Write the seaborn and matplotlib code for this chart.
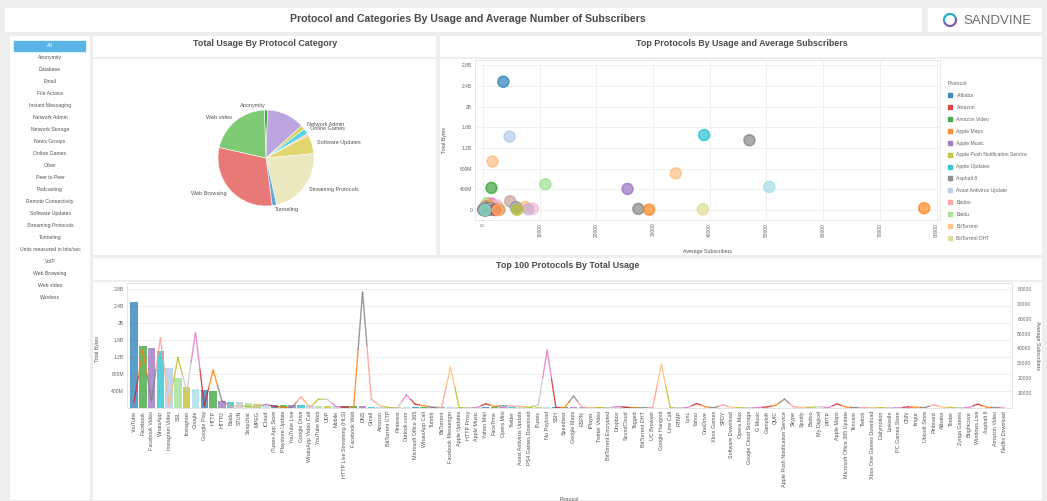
import numpy as np
import pandas as pd
import seaborn as sns
import matplotlib.pyplot as plt
from matplotlib.patches import Rectangle, Arc
from matplotlib.lines import Line2D

sns.set_style("white")
plt.rcParams['font.family'] = ['Liberation Sans', 'DejaVu Sans']

W, H = 1047, 501

# ---- data ----
categories = ['All', 'Anonymity', 'Database', 'Email', 'File Access', 'Instant Messaging',
              'Network Admin', 'Network Storage', 'News Groups', 'Online Games', 'Other',
              'Peer to Peer', 'Podcasting', 'Remote Connectivity', 'Software Updates',
              'Streaming Protocols', 'Tunneling', 'Units measured in bits/sec', 'VoIP',
              'Web Browsing', 'Web video', 'Wireless']

pie_labels = ['Anonymity', '', 'Network Admin', 'Online Games', '', 'Software Updates',
              'Streaming Protocols', 'Tunneling', 'Web Browsing', 'Web video']
pie_values = [1.1, 12.8, 1.4, 1.9, 0.6, 6.4, 23.0, 1.5, 30.7, 21.0]
pie_colors = ['#3aa63a', '#b9a0dd', '#d8cc55', '#4fd3e3', '#f6b3cc', '#e3d466',
              '#e9e8bd', '#5ba4d8', '#e8726f', '#78c96e']

protocols = [
    'YouTube', 'Facebook', 'Facebook Video', 'WhatsApp', 'Instagram Video', 'SSL',
    'Instagram', 'Google', 'Google Play', 'HTTP', 'HTTP2', 'Baidu', 'STUN', 'Snapchat',
    'MPEG', 'iCloud', 'iTunes App Store', 'Playstore Update', 'YouTube Live',
    'Google Drive', 'WhatsApp Video Call', 'YouTube Web', 'UDP', 'Mobile',
    'HTTP Live Streaming (HLS)', 'Facebook Web', 'DNS', 'Gmail', 'Amazon',
    'BitTorrent UTP', 'Pinterest', 'Outlook.com', 'Microsoft Office 365',
    'WhatsApp Call', 'Tumblr', 'BitTorrent', 'Facebook Messenger', 'Apple Updates',
    'HTTP Proxy', 'Apple Music', 'Yahoo Mail', 'FaceTime', 'Opera Mini', 'Twitter',
    'Avast Antivirus Update', 'PS4 Games Download', 'iTunes', 'No Payload', 'SSH',
    'Speedtest', 'Google Maps', 'ESPN', 'iPlayer', 'Twitter Video',
    'BitTorrent Encrypted', 'Dropbox', 'SoundCloud', 'Tagged', 'BitTorrent DHT',
    'UC Browser', 'Google Hangout', 'Line Call', 'RTMP', 'Lync', 'Yahoo', 'OneDrive',
    'Xbox Games', 'SPDY', 'Software Download', 'Opera Max', 'Google Cloud Storage',
    'G Music', 'Gameloft', 'QUIC', 'Apple Push Notification Service', 'Skype',
    'Spotify', 'Badoo', 'My Digicel', 'PPTP', 'Apple Maps',
    'Microsoft Office 365 Update', 'Tencent', 'Twitch', 'Xbox One Games Download',
    'Dailymotion', 'LinkedIn', 'PC Games Store', 'CNN', 'Imgur', 'Ubisoft Store',
    'Pinboard', 'Alibaba', 'Tinder', 'Zynga Games', 'Brightcove', 'Windows Live',
    'Asphalt 8', 'Amazon Video', 'Netflix Download']

# total bytes, in billions
total_bytes = [
    2.48, 1.45, 1.42, 1.35, 0.94, 0.71, 0.50, 0.45, 0.43, 0.41,
    0.17, 0.14, 0.13, 0.11, 0.10, 0.09, 0.075, 0.072, 0.068, 0.064,
    0.060, 0.056, 0.052, 0.048, 0.044, 0.040, 0.037, 0.035, 0.033, 0.031,
    0.030, 0.029, 0.028, 0.027, 0.026, 0.025, 0.024, 0.023, 0.022, 0.021,
    0.020, 0.019, 0.019, 0.018, 0.018, 0.017, 0.017, 0.016, 0.016, 0.015,
    0.015, 0.014, 0.014, 0.013, 0.013, 0.012, 0.012, 0.012, 0.011, 0.011,
    0.011, 0.010, 0.010, 0.010, 0.009, 0.009, 0.009, 0.009, 0.008, 0.008,
    0.008, 0.008, 0.007, 0.007, 0.007, 0.007, 0.007, 0.006, 0.006, 0.006,
    0.006, 0.006, 0.005, 0.005, 0.005, 0.005, 0.005, 0.005, 0.004, 0.004,
    0.004, 0.004, 0.004, 0.004, 0.004, 0.003, 0.003, 0.003, 0.003, 0.003]

avg_subscribers = [
    3600, 39000, 4700, 47000, 1700, 34000, 11000, 50500, 1500, 25500,
    4800, 800, 1500, 1000, 600, 2500, 1000, 500, 600, 7500,
    500, 5900, 5800, 1000, 500, 900, 77800, 5900, 1500, 200,
    300, 8800, 2500, 1500, 500, 300, 27400, 200, 100, 200,
    2800, 1000, 1500, 1200, 1000, 400, 2000, 38800, 300, 200,
    8000, 400, 200, 300, 200, 1000, 500, 100, 200, 300,
    29300, 200, 100, 300, 3000, 800, 200, 2000, 300, 100,
    200, 300, 700, 1800, 6000, 800, 300, 400, 800, 300,
    2800, 600, 300, 200, 300, 200, 300, 100, 700, 500,
    300, 2200, 400, 300, 200, 400, 2600, 500, 300, 400]

df = pd.DataFrame({'protocol': protocols, 'bytes': total_bytes, 'subs': avg_subscribers})

# ---- colours ----
tab = ['#1f77b4', '#d62728', '#2ca02c', '#ff7f0e', '#9467bd', '#bcbd22', '#17becf',
       '#7f7f7f', '#aec7e8', '#ff9896', '#98df8a', '#ffbb78', '#dbdb8d', '#c5b0d5',
       '#9edae5', '#c7c7c7', '#8c564b', '#e377c2', '#c49c94', '#f7b6d2']
legend_order = sorted(protocols, key=str.lower)
proto_colors = {p: tab[i % len(tab)] for i, p in enumerate(legend_order)}
proto_colors.update({'YouTube': '#1f77b4', 'Facebook': '#17becf', 'Facebook Video': '#aec7e8',
                     'WhatsApp': '#7f7f7f', 'Instagram Video': '#ffbb78', 'SSL': '#ffbb78',
                     'Instagram': '#98df8a', 'Google': '#9edae5', 'Google Play': '#2ca02c',
                     'HTTP': '#9467bd', 'DNS': '#ff7f0e', 'Facebook Messenger': '#7f7f7f',
                     'Google Hangout': '#ff7f0e', 'No Payload': '#dbdb8d'})

bar_cycle = ['#1f77b4', '#2ca02c', '#9467bd', '#17becf', '#aec7e8', '#98df8a', '#bcbd22', '#9edae5']
bar_colors = [bar_cycle[i % 8] for i in range(len(protocols))]
line_cycle = ['#d62728', '#ff7f0e', '#7f7f7f', '#ff9896', '#ffbb78', '#bcbd22', '#c7c7c7', '#e377c2']
line_colors = [line_cycle[i % 8] for i in range(len(protocols))]


def rect(x0, y0, x1, y1):
    return [x0 / W, 1 - y1 / H, (x1 - x0) / W, (y1 - y0) / H]


def panel(x0, y0, x1, y1, color='white'):
    a = fig.add_axes(rect(x0, y0, x1, y1))
    a.set_facecolor(color)
    a.set_xticks([])
    a.set_yticks([])
    for s in a.spines.values():
        s.set_visible(False)
    return a


def fmt_bytes(v):
    if v == 0:
        return '0'
    if v < 1:
        return f'{v * 1000:.0f}M'
    return f'{v:g}B'


fig = plt.figure(figsize=(W / 100, H / 100), dpi=100, facecolor='#eeeeee')
txt = '#4a4a4a'

# ---- background panels ----
panel(5, 8, 922, 32)
panel(928, 8, 1042, 32)
panel(10, 36, 90, 500)
panel(93, 36, 436, 57)
panel(93, 59, 436, 255)
panel(440, 36, 1042, 57)
panel(440, 59, 1042, 255)
panel(93, 258, 1042, 280)
panel(93, 282, 1042, 500)

fig.text(468 / W, 1 - 19 / H, 'Protocol and Categories By Usage and Average Number of Subscribers',
         ha='center', va='center', fontsize=7.6, fontweight='bold', color=txt)
fig.text(265 / W, 1 - 44 / H, 'Total Usage By Protocol Category', ha='center', va='center',
         fontsize=6.4, fontweight='bold', color=txt)
fig.text(742 / W, 1 - 44 / H, 'Top Protocols By Usage and Average Subscribers', ha='center',
         va='center', fontsize=6.4, fontweight='bold', color=txt)
fig.text(568 / W, 1 - 266 / H, 'Top 100 Protocols By Total Usage', ha='center', va='center',
         fontsize=6.4, fontweight='bold', color=txt)

# logo
logo = panel(942, 12, 958, 28, 'none')
logo.set_xlim(-1, 1)
logo.set_ylim(-1, 1)
logo.add_patch(Arc((0, 0), 1.5, 1.5, theta1=20, theta2=200, color='#27b0c0', lw=1.6))
logo.add_patch(Arc((0, 0), 1.5, 1.5, theta1=200, theta2=380, color='#7b5fa9', lw=1.6))
fig.text(997 / W, 1 - 20.5 / H, 'SANDVINE', ha='center', va='center', fontsize=9.5, color='#6e6e6e')

# ---- sidebar ----
side = panel(10, 36, 90, 500, 'none')
side.set_xlim(10, 90)
side.set_ylim(500, 36)
side.add_patch(Rectangle((14, 40.5), 71, 10.5, color='#5ab4e6'))
for i, c in enumerate(categories):
    side.text(50, 45.8 + i * 11.98, c, ha='center', va='center', fontsize=3.7,
              color='white' if i == 0 else '#555555')

# ---- pie ----
ax_pie = fig.add_axes(rect(206, 98, 326, 218))
ax_pie.pie(pie_values, labels=pie_labels, colors=pie_colors, startangle=92, counterclock=False,
           labeldistance=1.1, wedgeprops=dict(linewidth=0.4, edgecolor='white', alpha=0.95),
           textprops=dict(fontsize=4.0, color='#555555'))
ax_pie.set_xlim(-1.25, 1.25)
ax_pie.set_ylim(-1.25, 1.25)
ax_pie.set_aspect('equal')

# ---- scatter ----
ax_sc = fig.add_axes(rect(475, 60, 940, 220))
sns.scatterplot(data=df, x='subs', y='bytes', hue='protocol', palette=proto_colors, s=62,
                alpha=0.65, edgecolor='face', linewidth=1.2, legend=False, ax=ax_sc, zorder=3)
ax_sc.set_xlim(-1400, 80600)
ax_sc.set_ylim(-0.19, 2.9)
ax_sc.set_xticks(range(0, 80001, 10000))
ax_sc.set_xticklabels([str(v) for v in range(0, 80001, 10000)], rotation=90, fontsize=3.5, color='#666666')
sc_yticks = [0, 0.4, 0.8, 1.2, 1.6, 2.0, 2.4, 2.8]
ax_sc.set_yticks(sc_yticks)
ax_sc.set_yticklabels([fmt_bytes(v) for v in sc_yticks], fontsize=3.5, color='#666666')
ax_sc.tick_params(length=0, pad=2)
ax_sc.grid(True, color='#eeeeee', lw=0.6)
for s in ax_sc.spines.values():
    s.set_color('#e4e4e4')
    s.set_linewidth(0.6)
ax_sc.set_xlabel('Average Subscribers', fontsize=3.8, color='#555555')
ax_sc.set_ylabel('Total Bytes', fontsize=3.8, color='#555555')
ax_sc.xaxis.set_label_coords(0.5, -0.18)
ax_sc.yaxis.set_label_coords(-0.06, 0.5)

handles = [Line2D([], [], marker='s', ls='', markersize=3.2, color=proto_colors[p], alpha=0.8)
           for p in legend_order[:13]]
ax_sc.legend(handles, legend_order[:13], title='Protocol', loc='upper left',
             bbox_to_anchor=(946 / W, 1 - 79 / H), bbox_transform=fig.transFigure,
             frameon=False, fontsize=3.6, title_fontsize=3.8, handlelength=0.8,
             handletextpad=0.9, labelspacing=1.38, alignment='left', borderaxespad=0)
leg = ax_sc.get_legend()
for t in leg.get_texts():
    t.set_color('#666666')
leg.get_title().set_color('#666666')

# ---- bars + line ----
ax_b = fig.add_axes(rect(126.7, 283.3, 1011.7, 408))
sns.barplot(data=df, x='protocol', y='bytes', hue='protocol', order=protocols,
            hue_order=protocols, palette=bar_colors, legend=False, width=0.85,
            saturation=1, alpha=0.72, linewidth=0, ax=ax_b, zorder=2)
ax_b.set_xlim(-0.83, 99.85)
ax_b.set_ylim(0, 2.93)
b_yticks = [0.4, 0.8, 1.2, 1.6, 2.0, 2.4, 2.8]
ax_b.set_yticks(b_yticks)
ax_b.set_yticklabels([fmt_bytes(v) for v in b_yticks], fontsize=3.6, color='#666666')
ax_b.set_xticks(range(len(protocols)))
ax_b.set_xticklabels(protocols, rotation=90, fontsize=3.9, color='#555555')
ax_b.tick_params(length=0, pad=2)
ax_b.grid(True, axis='y', color='#eeeeee', lw=0.6, zorder=0)
for s in ax_b.spines.values():
    s.set_color('#e4e4e4')
    s.set_linewidth(0.6)
ax_b.set_xlabel('Protocol', fontsize=3.8, color='#555555')
ax_b.set_ylabel('Total Bytes', fontsize=3.8, color='#555555')
ax_b.xaxis.set_label_coords(0.5, -0.714)
ax_b.yaxis.set_label_coords(-0.03, 0.47)

ax_l = ax_b.twinx()
ax_l.set_ylim(0, 83700)
for i in range(len(protocols) - 1):
    xm = i + 0.5
    ym = (avg_subscribers[i] + avg_subscribers[i + 1]) / 2
    ax_l.plot([i, xm], [avg_subscribers[i], ym], color=line_colors[i], lw=1.0, alpha=0.8,
              solid_capstyle='round')
    ax_l.plot([xm, i + 1], [ym, avg_subscribers[i + 1]], color=line_colors[i + 1], lw=1.0,
              alpha=0.8, solid_capstyle='round')
r_ticks = list(range(10000, 80001, 10000))
ax_l.set_yticks(r_ticks)
ax_l.set_yticklabels([str(v) for v in r_ticks], fontsize=3.6, color='#666666')
ax_l.tick_params(length=0, pad=4)
for s in ax_l.spines.values():
    s.set_color('#e4e4e4')
    s.set_linewidth(0.6)
ax_l.set_ylabel('Average Subscribers', fontsize=3.8, color='#555555', rotation=270)
ax_l.yaxis.set_label_coords(1.032, 0.5)

fig.savefig('out.png', dpi=100, facecolor=fig.get_facecolor())
